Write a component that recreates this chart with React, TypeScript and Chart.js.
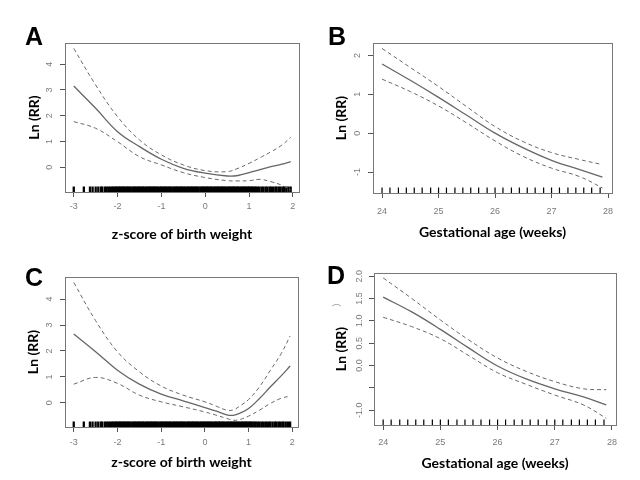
import React, { useEffect, useRef } from "react";
import { Chart, registerables } from "chart.js";

Chart.register(...registerables);

// ---------------- Data ----------------
// Panel A: z-score of birth weight
const zGridA = [-3, -2.5, -2, -1.5, -1, -0.5, 0, 0.5, 0.75, 1, 1.25, 1.5, 1.75, 1.95];
const fitA = [3.15, 2.29, 1.38, 0.8, 0.31, -0.04, -0.23, -0.34, -0.32, -0.21, -0.09, 0.02, 0.12, 0.22];
const upperA = [4.61, 3.19, 1.96, 1.06, 0.48, 0.09, -0.13, -0.17, -0.04, 0.15, 0.37, 0.6, 0.86, 1.16];
const lowerA = [1.77, 1.51, 0.99, 0.41, 0.09, -0.21, -0.4, -0.52, -0.53, -0.52, -0.47, -0.56, -0.7, -0.88];

// Panel C: z-score of birth weight
const zGridC = [-3, -2.5, -2, -1.5, -1, -0.5, 0, 0.25, 0.5, 0.65, 0.8, 1, 1.25, 1.5, 1.75, 1.95];
const fitC = [2.65, 1.97, 1.26, 0.72, 0.34, 0.08, -0.18, -0.31, -0.46, -0.48, -0.4, -0.22, 0.17, 0.62, 1.05, 1.42];
const upperC = [4.64, 3.17, 1.97, 1.2, 0.65, 0.3, 0.04, -0.12, -0.28, -0.27, -0.12, 0.13, 0.62, 1.26, 1.91, 2.58];
const lowerC = [0.72, 0.98, 0.75, 0.3, 0.04, -0.15, -0.35, -0.47, -0.6, -0.67, -0.64, -0.51, -0.28, -0.02, 0.18, 0.26];

// Panel B: gestational age
const gaGridB = [24, 24.5, 25, 25.5, 26, 26.5, 27, 27.5, 27.9];
const fitB = [1.78, 1.36, 0.92, 0.46, 0.0, -0.38, -0.7, -0.94, -1.13];
const upperB = [2.18, 1.69, 1.2, 0.68, 0.17, -0.22, -0.5, -0.68, -0.81];
const lowerB = [1.39, 1.07, 0.7, 0.26, -0.2, -0.6, -0.9, -1.12, -1.41];

// Panel D: gestational age
const gaGridD = [24, 24.5, 25, 25.5, 26, 26.5, 27, 27.5, 27.9];
const fitD = [1.53, 1.2, 0.81, 0.39, -0.01, -0.3, -0.52, -0.7, -0.88];
const upperD = [1.96, 1.5, 1.02, 0.57, 0.17, -0.13, -0.36, -0.52, -0.54];
const lowerD = [1.08, 0.87, 0.6, 0.22, -0.16, -0.42, -0.66, -0.88, -1.18];

// Rug (observed values along the x axis)
const rugZ = [
  -3.0, -2.77, -2.63, -2.57, -2.5, -2.44, -2.38, -2.35, -2.29, -2.25, -2.21, -2.17, -2.13, -2.1, -2.06, -2.03, -2.0,
  -1.97, -1.94, -1.91, -1.88, -1.85, -1.82, -1.79, -1.76, -1.73, -1.7,
  -1.66, -1.63, -1.6, -1.57, -1.54, -1.51, -1.48, -1.45, -1.42, -1.39,
  -1.35, -1.32, -1.29, -1.26, -1.23, -1.2, -1.17, -1.14, -1.11, -1.08,
  -1.04, -1.01, -0.98, -0.95, -0.92, -0.89, -0.86, -0.83, -0.8, -0.77,
  -0.73, -0.7, -0.67, -0.64, -0.61, -0.58, -0.55, -0.52, -0.49, -0.46,
  -0.42, -0.39, -0.36, -0.33, -0.3, -0.27, -0.24, -0.21, -0.18, -0.15,
  -0.11, -0.08, -0.05, -0.02, 0.01, 0.04, 0.07, 0.1, 0.13, 0.16,
  0.2, 0.23, 0.26, 0.29, 0.32, 0.35, 0.38, 0.41, 0.44, 0.47,
  0.51, 0.54, 0.57, 0.6, 0.63, 0.66, 0.69, 0.72, 0.75, 0.78,
  0.82, 0.85, 0.88, 0.91, 0.94, 0.97, 1.0, 1.03, 1.06, 1.09,
  1.13, 1.16, 1.2, 1.24, 1.29, 1.33, 1.38, 1.42, 1.47, 1.5, 1.55, 1.6, 1.63, 1.68, 1.72, 1.77, 1.8, 1.85, 1.9, 1.95,
];
const rugGA = [
  24.0, 24.14, 24.29, 24.43, 24.57, 24.71, 24.86, 25.0, 25.14, 25.29, 25.43, 25.57, 25.71, 25.86,
  26.0, 26.14, 26.29, 26.43, 26.57, 26.71, 26.86, 27.0, 27.14, 27.29, 27.43, 27.57, 27.71, 27.86,
];

// Ticks
const zTicks = [-3, -2, -1, 0, 1, 2];
const gaTicks = [24, 25, 26, 27, 28];
const yTicksA = [0, 1, 2, 3, 4];
const yTicksB = [-1, 0, 1, 2];
const yTicksC = [0, 1, 2, 3, 4];
const yTicksD = [-1, -0.5, 0, 0.5, 1, 1.5, 2];
const yTickLabelsD = ["-1.0", "", "0.0", "0.5", "1.0", "1.5", "2.0"];

const xTitleZ = "z-score of birth weight";
const xTitleGA = "Gestational age (weeks)";
const yTitle = "Ln (RR)";

// ---------------- Styles ----------------
const TICK_FONT = "'Liberation Sans', Arial, sans-serif";
const TITLE_FONT = "Lato, 'Open Sans', sans-serif";
const TICK_COLOR = "#7a7a7a";
const MARK_COLOR = "#555555";
const BOX_COLOR = "#777777";
const FIT_COLOR = "#666666";
const CI_COLOR = "#6a6a6a";

type Panel = {
  letter: string;
  x: number; y: number; w: number; h: number;
  area: { l: number; t: number; r: number; b: number };
  xMin: number; xMax: number; yMin: number; yMax: number;
  grid: number[]; fit: number[]; upper: number[]; lower: number[];
  rug: number[]; rugWidth: number;
  xTicks: number[]; yTicks: number[]; yLabels?: string[];
  xTitle: string;
  yTitleX: number; xTitleY: number;
  yLabelPad: number; xLabelPad: number;
  letterX: number; letterY: number;
  stray?: { text: string; x: number; y: number };
};

const panels: Panel[] = [
  {
    letter: "A", x: 0, y: 0, w: 320, h: 246,
    area: { l: 65, t: 43, r: 299, b: 192 },
    xMin: -3.2, xMax: 2.14, yMin: -0.96, yMax: 4.82,
    grid: zGridA, fit: fitA, upper: upperA, lower: lowerA, rug: rugZ, rugWidth: 2.3,
    xTicks: zTicks, yTicks: yTicksA, xTitle: xTitleZ,
    yTitleX: 34, xTitleY: 234, yLabelPad: 7.5, xLabelPad: 4.5,
    letterX: 25, letterY: 45,
  },
  {
    letter: "B", x: 320, y: 0, w: 320, h: 246,
    area: { l: 53, t: 43, r: 292, b: 193 },
    xMin: 23.84, xMax: 28.07, yMin: -1.54, yMax: 2.32,
    grid: gaGridB, fit: fitB, upper: upperB, lower: lowerB, rug: rugGA, rugWidth: 1.2,
    xTicks: gaTicks, yTicks: yTicksB, xTitle: xTitleGA,
    yTitleX: 21, xTitleY: 232, yLabelPad: 6, xLabelPad: 8,
    letterX: 8, letterY: 45,
  },
  {
    letter: "C", x: 0, y: 240, w: 320, h: 240,
    area: { l: 65, t: 37, r: 298, b: 187 },
    xMin: -3.2, xMax: 2.13, yMin: -0.93, yMax: 4.85,
    grid: zGridC, fit: fitC, upper: upperC, lower: lowerC, rug: rugZ, rugWidth: 2.3,
    xTicks: zTicks, yTicks: yTicksC, xTitle: xTitleZ,
    yTitleX: 33, xTitleY: 222, yLabelPad: 7.5, xLabelPad: 5,
    letterX: 25, letterY: 46,
  },
  {
    letter: "D", x: 320, y: 240, w: 320, h: 240,
    area: { l: 54, t: 33, r: 296, b: 185 },
    xMin: 23.84, xMax: 28.07, yMin: -1.33, yMax: 2.07,
    grid: gaGridD, fit: fitD, upper: upperD, lower: lowerD, rug: rugGA, rugWidth: 1.2,
    xTicks: gaTicks, yTicks: yTicksD, yLabels: yTickLabelsD, xTitle: xTitleGA,
    yTitleX: 21, xTitleY: 223, yLabelPad: 1.5, xLabelPad: 7,
    letterX: 7, letterY: 44,
    stray: { text: ")", x: 17, y: 65 },
  },
];

const toPts = (xs: number[], ys: number[]) => xs.map((x, i) => ({ x, y: ys[i] }));

const framePlugin = {
  id: "frame",
  afterDatasetsDraw(chart: any) {
    const { ctx, chartArea } = chart;
    const { left, top, right, bottom } = chartArea;
    ctx.save();
    ctx.strokeStyle = BOX_COLOR;
    ctx.lineWidth = 1;
    ctx.strokeRect(Math.round(left) + 0.5, Math.round(top) + 0.5, Math.round(right - left), Math.round(bottom - top));
    ctx.restore();
  },
};

function makeLetterPlugin(p: Panel) {
  return {
    id: "panelLetter",
    afterDraw(chart: any) {
      const ctx = chart.ctx;
      ctx.save();
      ctx.fillStyle = "#000";
      ctx.font = "bold 25px 'Liberation Sans', Arial, sans-serif";
      ctx.textBaseline = "alphabetic";
      ctx.textAlign = "left";
      ctx.fillText(p.letter, p.letterX, p.letterY);
      if (p.stray) {
        ctx.translate(p.stray.x, p.stray.y);
        ctx.rotate(-Math.PI / 2);
        ctx.fillStyle = "#9a9a9a";
        ctx.font = "9px 'Liberation Sans', Arial, sans-serif";
        ctx.textAlign = "center";
        ctx.textBaseline = "middle";
        ctx.fillText(p.stray.text, 0, 0);
      }
      ctx.restore();
    },
  };
}

function buildConfig(p: Panel): any {
  const lineBase = {
    showLine: true,
    pointRadius: 0,
    pointHoverRadius: 0,
    tension: 0.4,
    clip: 0,
  };
  return {
    type: "scatter",
    data: {
      datasets: [
        { ...lineBase, data: toPts(p.grid, p.upper), borderColor: CI_COLOR, borderWidth: 1, borderDash: [4, 3] },
        { ...lineBase, data: toPts(p.grid, p.lower), borderColor: CI_COLOR, borderWidth: 1, borderDash: [4, 3] },
        { ...lineBase, data: toPts(p.grid, p.fit), borderColor: FIT_COLOR, borderWidth: 1.3 },
        {
          data: p.rug.map((v) => ({ x: v, y: p.yMin })),
          showLine: false,
          pointStyle: "line",
          pointRotation: 90,
          pointRadius: 5.5,
          pointHoverRadius: 5.5,
          pointBorderColor: "#000",
          pointBorderWidth: p.rugWidth,
          clip: 0,
        },
      ],
    },
    options: {
      animation: false,
      responsive: false,
      maintainAspectRatio: false,
      devicePixelRatio: 1,
      events: [],
      layout: { padding: { left: 0, top: p.area.t, right: p.w - p.area.r, bottom: 0 } },
      plugins: {
        legend: { display: false },
        tooltip: { enabled: false },
        title: { display: false },
      },
      scales: {
        x: {
          type: "linear",
          position: "bottom",
          min: p.xMin,
          max: p.xMax,
          afterBuildTicks: (s: any) => {
            s.ticks = p.xTicks.map((v) => ({ value: v }));
          },
          afterFit: (s: any) => {
            s.height = p.h - p.area.b;
          },
          border: { display: false },
          grid: { drawOnChartArea: false, drawTicks: true, tickLength: 5, tickColor: MARK_COLOR, tickWidth: 1 },
          ticks: {
            autoSkip: false,
            minRotation: 0,
            maxRotation: 0,
            padding: p.xLabelPad,
            color: TICK_COLOR,
            font: { family: TICK_FONT, size: 9 },
            callback: (v: number) => String(v),
          },
          title: {
            display: true,
            text: p.xTitle,
            color: "#000",
            font: { family: TITLE_FONT, size: 14, weight: "bold" },
            padding: { top: 0, bottom: p.h - 8.4 - p.xTitleY },
          },
        },
        y: {
          type: "linear",
          position: "left",
          min: p.yMin,
          max: p.yMax,
          afterBuildTicks: (s: any) => {
            s.ticks = p.yTicks.map((v) => ({ value: v }));
          },
          afterFit: (s: any) => {
            s.width = p.area.l;
          },
          border: { display: false },
          grid: { drawOnChartArea: false, drawTicks: true, tickLength: 5, tickColor: MARK_COLOR, tickWidth: 1 },
          ticks: {
            autoSkip: false,
            minRotation: 90,
            maxRotation: 90,
            crossAlign: "center",
            padding: p.yLabelPad,
            color: TICK_COLOR,
            font: { family: TICK_FONT, size: 9 },
            callback: (v: number, i: number) => (p.yLabels ? p.yLabels[i] : String(v)),
          },
          title: {
            display: true,
            text: yTitle,
            color: "#000",
            font: { family: TITLE_FONT, size: 14, weight: "bold" },
            padding: { top: p.yTitleX - 8.4, bottom: 0 },
          },
        },
      },
    },
    plugins: [framePlugin, makeLetterPlugin(p)],
  };
}

function PanelChart({ p }: { p: Panel }) {
  const ref = useRef<HTMLCanvasElement>(null);
  useEffect(() => {
    if (!ref.current) return;
    const chart = new Chart(ref.current, buildConfig(p));
    return () => chart.destroy();
  }, []);
  return (
    <canvas
      ref={ref}
      width={p.w}
      height={p.h}
      style={{ position: "absolute", left: p.x, top: p.y, width: p.w, height: p.h }}
    />
  );
}

export default function App() {
  return (
    <div
      style={{
        position: "fixed",
        left: 0,
        top: 0,
        width: 640,
        height: 480,
        background: "#ffffff",
        overflow: "hidden",
      }}
    >
      {panels.map((p) => (
        <PanelChart key={p.letter} p={p} />
      ))}
    </div>
  );
}
